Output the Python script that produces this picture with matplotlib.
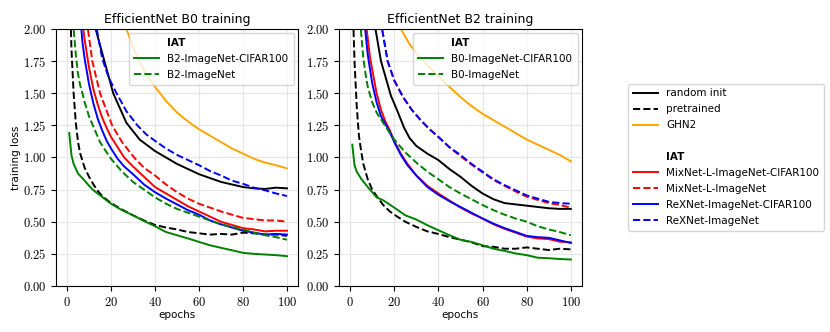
import matplotlib
matplotlib.use("Agg")
import matplotlib.pyplot as plt
from matplotlib.lines import Line2D
from matplotlib import ticker

plt.rcParams['font.family'] = ['DejaVu Sans']
plt.rcParams['mathtext.fontset'] = 'cm'

# ---------------- Left panel: EfficientNet B0 training ----------------
b0_random_ep = [8, 11, 13, 17, 21, 27, 33, 40, 45, 50, 55, 60, 65, 70, 75, 80, 85, 90, 95, 100]
b0_random = [2.7, 2.2, 2.0, 1.75, 1.5, 1.27, 1.14, 1.05, 1.0, 0.95, 0.91, 0.87, 0.84, 0.81, 0.79, 0.77, 0.76, 0.755, 0.765, 0.76]

b0_pre_ep = [1, 2, 3, 4, 5, 6, 8, 10, 12, 14, 16, 20, 25, 30, 35, 40, 45, 50, 55, 60, 65, 70, 75, 80, 85, 90, 95, 100]
b0_pre = [2.5, 1.85, 1.5, 1.27, 1.12, 1.03, 0.92, 0.85, 0.79, 0.74, 0.70, 0.645, 0.595, 0.55, 0.51, 0.475, 0.455, 0.44, 0.42, 0.41, 0.40, 0.405, 0.40, 0.415, 0.41, 0.40, 0.40, 0.39]

b0_ghn_ep = [20, 24, 27, 30, 33, 36, 40, 45, 50, 55, 60, 65, 70, 75, 80, 85, 90, 95, 100]
b0_ghn = [2.4, 2.15, 2.0, 1.86, 1.74, 1.65, 1.55, 1.44, 1.35, 1.28, 1.22, 1.17, 1.12, 1.07, 1.03, 0.99, 0.96, 0.94, 0.915]

b0_mix_c_ep = [4, 5, 6, 7, 8, 10, 12, 14, 16, 18, 20, 23, 26, 30, 35, 40, 45, 50, 55, 60, 65, 70, 75, 80, 85, 90, 95, 100]
b0_mix_c = [3.0, 2.6, 2.3, 2.05, 1.92, 1.7, 1.53, 1.41, 1.31, 1.23, 1.16, 1.08, 1.0, 0.93, 0.85, 0.77, 0.72, 0.67, 0.62, 0.58, 0.54, 0.50, 0.475, 0.45, 0.44, 0.425, 0.43, 0.43]

b0_mix_i_ep = [6, 8, 9.5, 11.5, 15, 20.5, 25, 30.5, 35, 40, 45, 50, 55, 60, 65, 70, 75, 80, 85, 90, 95, 100]
b0_mix_i = [2.6, 2.2, 2.0, 1.75, 1.5, 1.25, 1.12, 1.0, 0.92, 0.86, 0.79, 0.73, 0.68, 0.64, 0.61, 0.58, 0.555, 0.53, 0.52, 0.51, 0.51, 0.50]

b0_rex_c_ep = [4, 5, 6, 7, 8, 10, 12, 14, 16, 18, 20, 23, 26, 30, 35, 40, 45, 50, 55, 60, 65, 70, 75, 80, 85, 90, 95, 100]
b0_rex_c = [2.8, 2.4, 2.1, 1.9, 1.77, 1.57, 1.42, 1.3, 1.21, 1.13, 1.07, 0.99, 0.93, 0.87, 0.79, 0.73, 0.68, 0.635, 0.59, 0.555, 0.51, 0.48, 0.455, 0.43, 0.415, 0.40, 0.405, 0.40]

b0_rex_i_ep = [10, 13.5, 16, 19, 22.5, 27, 32, 36, 40, 45, 50, 55, 60, 65, 70, 75, 80, 85, 90, 95, 100]
b0_rex_i = [2.5, 2.0, 1.77, 1.62, 1.5, 1.36, 1.25, 1.18, 1.13, 1.07, 1.02, 0.98, 0.94, 0.895, 0.86, 0.82, 0.795, 0.765, 0.745, 0.72, 0.70]

b0_iat_c_ep = [1, 2, 3, 5, 8, 10, 12, 15, 20, 25, 30, 35, 40, 45, 50, 55, 60, 65, 70, 75, 80, 85, 90, 95, 100]
b0_iat_c = [1.19, 1.02, 0.95, 0.875, 0.82, 0.78, 0.745, 0.706, 0.64, 0.59, 0.55, 0.506, 0.465, 0.42, 0.395, 0.37, 0.343, 0.317, 0.297, 0.278, 0.258, 0.25, 0.245, 0.24, 0.232]

b0_iat_i_ep = [2, 3, 4, 5, 6, 7, 8, 10, 12, 15, 18, 20, 25, 30, 35, 40, 45, 50, 55, 60, 65, 70, 75, 80, 85, 90, 95, 100]
b0_iat_i = [2.4, 2.0, 1.8, 1.65, 1.56, 1.5, 1.43, 1.32, 1.24, 1.12, 1.04, 0.99, 0.89, 0.81, 0.75, 0.69, 0.64, 0.60, 0.57, 0.54, 0.51, 0.48, 0.46, 0.44, 0.415, 0.395, 0.38, 0.36]

# ---------------- Right panel: EfficientNet B2 training ----------------
b2_random_ep = [6, 9, 11.5, 14, 18.5, 21, 24.5, 27, 30, 35, 40, 45, 50, 55, 60, 65, 70, 75, 80, 85, 90, 95, 100]
b2_random = [3.0, 2.3, 2.0, 1.75, 1.48, 1.38, 1.23, 1.15, 1.09, 1.03, 0.98, 0.91, 0.85, 0.78, 0.72, 0.675, 0.645, 0.635, 0.625, 0.615, 0.605, 0.60, 0.60]

b2_pre_ep = [1, 2, 3, 4, 5, 6, 8, 10, 12, 15, 18, 20, 25, 30, 35, 40, 45, 50, 55, 60, 65, 70, 75, 80, 85, 90, 95, 100]
b2_pre = [2.3, 1.75, 1.4, 1.17, 1.05, 0.95, 0.83, 0.75, 0.70, 0.63, 0.58, 0.555, 0.50, 0.46, 0.425, 0.405, 0.38, 0.36, 0.34, 0.31, 0.305, 0.29, 0.29, 0.30, 0.29, 0.28, 0.29, 0.285]

b2_ghn_ep = [16, 20, 23, 27, 32, 35, 40, 45, 50, 55, 60, 65, 70, 75, 80, 85, 90, 95, 100]
b2_ghn = [2.4, 2.15, 2.0, 1.88, 1.77, 1.72, 1.63, 1.55, 1.47, 1.40, 1.34, 1.29, 1.24, 1.19, 1.14, 1.10, 1.06, 1.02, 0.97]

b2_mix_c_ep = [3, 5, 7.5, 9, 12, 14, 16, 18, 20, 23, 26, 30, 35, 40, 45, 50, 55, 60, 65, 70, 75, 80, 85, 90, 95, 100]
b2_mix_c = [3.4, 2.6, 2.0, 1.78, 1.5, 1.37, 1.28, 1.21, 1.13, 1.03, 0.95, 0.86, 0.78, 0.72, 0.665, 0.61, 0.565, 0.525, 0.48, 0.445, 0.415, 0.385, 0.37, 0.365, 0.345, 0.34]

b2_mix_i_ep = [11, 14, 17, 20, 24, 28, 32, 36, 40, 45, 50, 55, 60, 65, 70, 75, 80, 85, 90, 95, 100]
b2_mix_i = [2.6, 2.05, 1.75, 1.6, 1.47, 1.37, 1.29, 1.22, 1.16, 1.08, 1.01, 0.945, 0.885, 0.825, 0.78, 0.735, 0.695, 0.67, 0.645, 0.63, 0.61]

b2_rex_c_ep = [3, 5, 7, 8, 10, 12, 14, 16, 18, 20, 23, 26, 30, 35, 40, 45, 50, 55, 60, 65, 70, 75, 80, 85, 90, 95, 100]
b2_rex_c = [3.2, 2.4, 1.97, 1.8, 1.58, 1.43, 1.32, 1.26, 1.2, 1.12, 1.02, 0.94, 0.86, 0.77, 0.71, 0.66, 0.615, 0.57, 0.525, 0.485, 0.45, 0.42, 0.39, 0.38, 0.375, 0.355, 0.335]

b2_rex_i_ep = [11, 14, 17, 20, 24, 28, 32, 36, 40, 45, 50, 55, 60, 65, 70, 75, 80, 85, 90, 95, 100]
b2_rex_i = [2.6, 2.05, 1.75, 1.6, 1.47, 1.37, 1.29, 1.22, 1.16, 1.08, 1.02, 0.95, 0.89, 0.83, 0.785, 0.745, 0.705, 0.68, 0.655, 0.645, 0.64]

b2_iat_c_ep = [1, 2, 3, 5, 8, 10, 12, 15, 20, 25, 30, 35, 40, 45, 50, 55, 60, 65, 70, 75, 80, 85, 90, 95, 100]
b2_iat_c = [1.10, 0.94, 0.89, 0.835, 0.77, 0.73, 0.69, 0.667, 0.61, 0.55, 0.517, 0.473, 0.434, 0.395, 0.36, 0.343, 0.317, 0.29, 0.273, 0.253, 0.24, 0.22, 0.216, 0.21, 0.206]

b2_iat_i_ep = [3, 4, 5, 6, 7, 8, 10, 12, 15, 18, 20, 25, 30, 35, 40, 45, 50, 55, 60, 65, 70, 75, 80, 85, 90, 95, 100]
b2_iat_i = [2.6, 2.25, 1.97, 1.77, 1.65, 1.55, 1.43, 1.35, 1.27, 1.19, 1.14, 1.04, 0.96, 0.89, 0.83, 0.77, 0.72, 0.675, 0.63, 0.59, 0.555, 0.525, 0.50, 0.465, 0.44, 0.42, 0.395]

titles = ["EfficientNet B0 training", "EfficientNet B2 training"]
iat_labels_left = ["B2-ImageNet-CIFAR100", "B2-ImageNet"]
iat_labels_right = ["B0-ImageNet-CIFAR100", "B0-ImageNet"]
common_labels = ["random init", "pretrained", "GHN2", "MixNet-L-ImageNet-CIFAR100",
                 "MixNet-L-ImageNet", "ReXNet-ImageNet-CIFAR100", "ReXNet-ImageNet"]
x_ticks = [0, 20, 40, 60, 80, 100]
y_ticks = [0.0, 0.25, 0.5, 0.75, 1.0, 1.25, 1.5, 1.75, 2.0]

fig = plt.figure(figsize=(8.3, 3.32), dpi=100)
axL = fig.add_axes([0.0675, 0.1386, 0.2915, 0.7741])
axR = fig.add_axes([0.4085, 0.1386, 0.2925, 0.7741])

LW = 1.4
FS = 7.5
panels = [
    (axL, [(b0_random_ep, b0_random), (b0_pre_ep, b0_pre), (b0_ghn_ep, b0_ghn),
           (b0_mix_c_ep, b0_mix_c), (b0_mix_i_ep, b0_mix_i), (b0_rex_c_ep, b0_rex_c),
           (b0_rex_i_ep, b0_rex_i)],
     [(b0_iat_c_ep, b0_iat_c), (b0_iat_i_ep, b0_iat_i)], iat_labels_left, titles[0]),
    (axR, [(b2_random_ep, b2_random), (b2_pre_ep, b2_pre), (b2_ghn_ep, b2_ghn),
           (b2_mix_c_ep, b2_mix_c), (b2_mix_i_ep, b2_mix_i), (b2_rex_c_ep, b2_rex_c),
           (b2_rex_i_ep, b2_rex_i)],
     [(b2_iat_c_ep, b2_iat_c), (b2_iat_i_ep, b2_iat_i)], iat_labels_right, titles[1]),
]
styles = [('black', '-'), ('black', '--'), ('orange', '-'), ('red', '-'),
          ('red', '--'), ('blue', '-'), ('blue', '--')]

for ax, series, iat, iat_labels, title in panels:
    ax.grid(True, color='#e5e5e5', linewidth=0.8)
    ax.set_axisbelow(True)
    for (ep, val), (c, ls) in zip(series, styles):
        ax.plot(ep, val, color=c, linestyle=ls, linewidth=LW)
    h1, = ax.plot(iat[0][0], iat[0][1], color='green', linestyle='-', linewidth=LW)
    h2, = ax.plot(iat[1][0], iat[1][1], color='green', linestyle='--', linewidth=LW)
    ax.set_xlim(-5, 105)
    ax.set_ylim(0, 2)
    ax.set_xticks(x_ticks)
    ax.set_yticks(y_ticks)
    ax.xaxis.set_major_formatter(ticker.FuncFormatter(lambda v, p: r'$%d$' % v))
    ax.yaxis.set_major_formatter(ticker.FuncFormatter(lambda v, p: r'$%.2f$' % v))
    ax.tick_params(labelsize=9, length=3.5, width=0.8)
    ax.set_title(title, fontsize=9, pad=4)
    ax.set_xlabel("epochs", fontsize=FS, labelpad=1)
    blank = Line2D([], [], color='none')
    leg = ax.legend([blank, h1, h2], ["IAT"] + iat_labels, loc='upper right',
                    fontsize=FS, handlelength=2.4, borderaxespad=0.4,
                    labelspacing=0.55, borderpad=0.5)
    leg.get_texts()[0].set_fontweight('bold')

axL.set_ylabel("training loss", fontsize=FS, labelpad=0)
axL.yaxis.set_label_coords(-0.145, 0.5)

# Shared legend on the right
handles = []
labels = []
for (c, ls), lab in zip(styles[:3], common_labels[:3]):
    handles.append(Line2D([], [], color=c, linestyle=ls, linewidth=LW))
    labels.append(lab)
handles.append(Line2D([], [], color='none'))
labels.append(" ")
handles.append(Line2D([], [], color='none'))
labels.append("IAT")
for (c, ls), lab in zip(styles[3:], common_labels[3:]):
    handles.append(Line2D([], [], color=c, linestyle=ls, linewidth=LW))
    labels.append(lab)
fleg = fig.legend(handles, labels, loc='upper left', bbox_to_anchor=(0.757, 0.748),
                  fontsize=FS, handlelength=2.4, labelspacing=0.57, borderaxespad=0,
                  borderpad=0.45)
fleg.get_texts()[4].set_fontweight('bold')

fig.savefig("out.png", dpi=100)
